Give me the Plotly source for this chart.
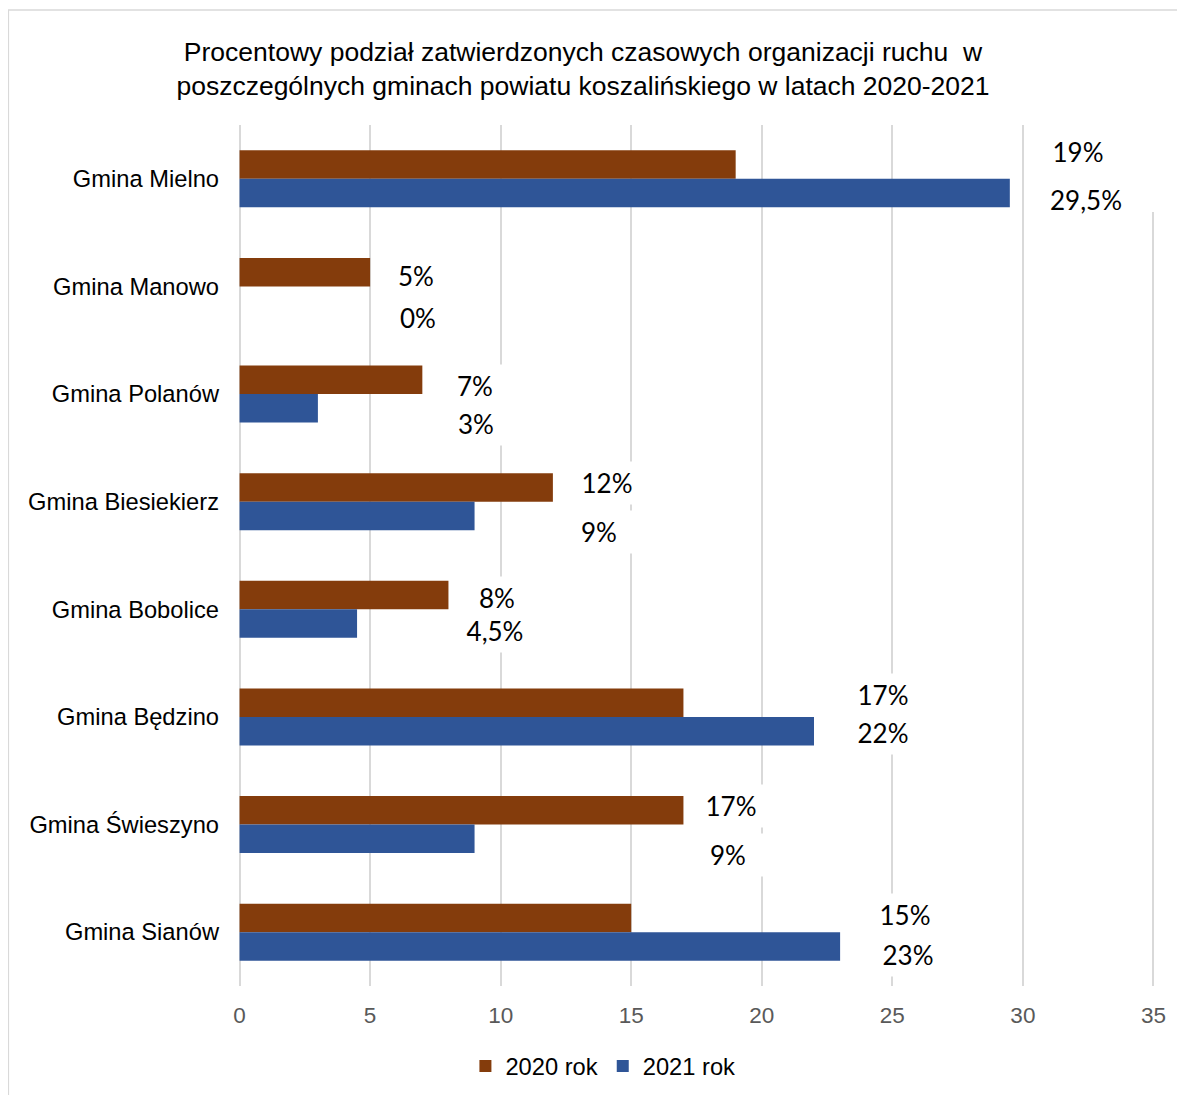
import plotly.graph_objects as go

categories = ["Gmina Mielno", "Gmina Manowo", "Gmina Polanów", "Gmina Biesiekierz",
              "Gmina Bobolice", "Gmina Będzino", "Gmina Świeszyno", "Gmina Sianów"]
values_2020 = [19, 5, 7, 12, 8, 17, 17, 15]
values_2021 = [29.5, 0, 3, 9, 4.5, 22, 9, 23]
labels_2020 = ["19%", "5%", "7%", "12%", "8%", "17%", "17%", "15%"]
labels_2021 = ["29,5%", "0%", "3%", "9%", "4,5%", "22%", "9%", "23%"]
series_names = ["2020 rok", "2021 rok"]
x_ticks = [0, 5, 10, 15, 20, 25, 30, 35]

# manual label placement (data-unit x of label centre, pixel y shift)
label_x_2020 = [32.1, 6.75, 9.0, 14.07, 9.85, 24.65, 18.82, 25.49]
label_x_2021 = [32.4, 6.82, 9.05, 13.76, 9.78, 24.65, 18.71, 25.61]
shift_2020 = [27, 10, 8, 19, 11, 22, 19, 17]
shift_2021 = [-21, -32, -30, -30, -22, -16, -30, -23]

BROWN = "#843C0C"
BLUE = "#2F5597"

W, H = 1177, 1087
PAD = 0.06                      # small range padding so edge gridlines are drawn
UNIT = 913 / 35                 # px per unit
ML = 232 - PAD * UNIT
MR = 32 - PAD * UNIT
MT, MB = 117, 109
PW, PH = W - ML - MR, H - MT - MB

fig = go.Figure()
fig.add_trace(go.Bar(y=categories, x=values_2020, orientation="h", name=series_names[0],
                     marker=dict(color=BROWN, line=dict(width=0))))
fig.add_trace(go.Bar(y=categories, x=values_2021, orientation="h", name=series_names[1],
                     marker=dict(color=BLUE, line=dict(width=0))))

annotations = []
for labs, xs, shifts in [(labels_2020, label_x_2020, shift_2020),
                         (labels_2021, label_x_2021, shift_2021)]:
    for cat, lab, lx, sh in zip(categories, labs, xs, shifts):
        annotations.append(dict(
            x=lx, y=cat, xref="x", yref="y", yshift=sh, text=lab, showarrow=False,
            font=dict(family="Lato", size=26, color="#000000"),
            bgcolor="white", width=80, height=40,
            xanchor="center", yanchor="middle", align="center"))

fig.update_layout(
    width=W, height=H,
    margin=dict(l=ML, r=MR, t=MT, b=MB, autoexpand=False),
    paper_bgcolor="white", plot_bgcolor="white",
    barmode="group", bargap=0.47, bargroupgap=0,
    title=dict(text="Procentowy podział zatwierdzonych czasowych organizacji ruchu  w<br>"
                    "poszczególnych gminach powiatu koszalińskiego w latach 2020-2021",
               x=575 / W, xanchor="center", xref="container",
               y=1 - 53 / H, yanchor="middle",
               font=dict(family="Liberation Sans", size=26.5, color="#000000")),
    xaxis=dict(range=[-PAD, 35 + PAD], tickvals=x_ticks, showgrid=True, gridcolor="#D9D9D9",
               gridwidth=2, zeroline=False, showline=False, ticks="", ticklabelstandoff=13,
               tickfont=dict(family="Liberation Sans", size=22.5, color="#595959"), fixedrange=True),
    yaxis=dict(autorange="reversed", showgrid=False, zeroline=False, showline=False, ticks="",
               ticklabelstandoff=18,
               tickfont=dict(family="Liberation Sans", size=23.7, color="#000000")),
    legend=dict(orientation="h", x=(595 - ML) / PW, xanchor="center",
                yref="container", y=1 - 1058 / H, yanchor="middle",
                font=dict(family="Liberation Sans", size=23.7, color="#000000"),
                traceorder="normal", itemwidth=30),
    showlegend=True,
    annotations=annotations,
    shapes=[
        dict(type="rect", xref="paper", yref="paper",
             x0=-(ML - 1) / PW, x1=1.2, y0=-0.2, y1=1 + 115 / PH,
             line=dict(color="#D9D9D9", width=1.5), fillcolor="rgba(0,0,0,0)", layer="below"),
        # white label-box region hiding the gridline beside the top labels
        dict(type="rect", xref="paper", yref="paper",
             x0=(1125 - 8 - ML) / PW, x1=1.03, y0=1 - 87 / PH, y1=1.005,
             line=dict(width=0), fillcolor="white", layer="above"),
    ],
)

fig.write_html("out.html")
